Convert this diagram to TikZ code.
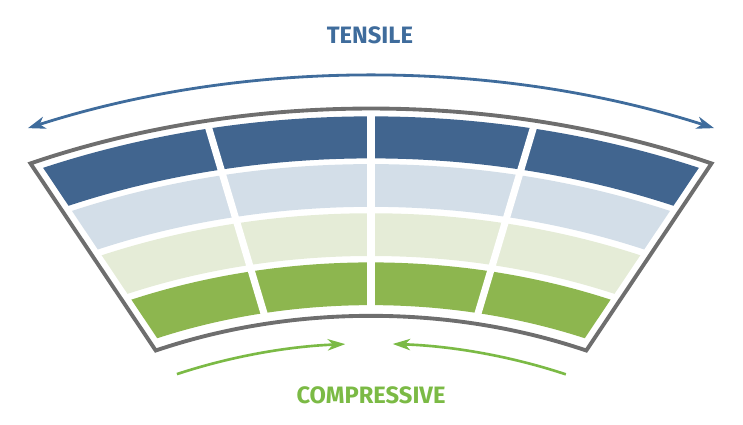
\documentclass[tikz,border=0pt]{standalone}
\usepackage{fontspec}
\setsansfont{Fira Sans}
\usetikzlibrary{arrows.meta}

\definecolor{tensileBlue}{HTML}{3F6C9C}
\definecolor{compGreen}{HTML}{7BBA45}
\definecolor{layerDark}{HTML}{41658F}
\definecolor{layerPale}{HTML}{D3DEE8}
\definecolor{layerMint}{HTML}{E5ECD7}
\definecolor{layerGreen}{HTML}{8DB64F}
\definecolor{frameGray}{HTML}{6E6E6E}

\begin{document}
\begin{tikzpicture}[
    x=0.02cm, y=0.014248cm,
    gap/.style={white, line width=4pt},
    sidegap/.style={white, line width=9pt},
    frame/.style={draw=frameGray, line width=2.2pt, line join=miter},
    pullarrow/.style={{Stealth[length=10pt, width=7pt, inset=3pt]}-{Stealth[length=10pt, width=7pt, inset=3pt]}, line width=1.6pt, draw=tensileBlue},
    pusharrow/.style={-{Stealth[length=10pt, width=6.5pt, inset=3pt]}, line width=1.5pt, draw=compGreen},
    heading/.style={font=\sffamily\bfseries\fontsize{13.5}{15}\selectfont}
]
    \useasboundingbox (-371,348.1) rectangle (372,943.3);

    % Layers (outer to inner)
    \fill[layerDark]  (64.5:780) arc (64.5:115.5:780) -- (115.5:721) arc (115.5:64.5:721) -- cycle;
    \fill[layerPale]  (64.5:713) arc (64.5:115.5:713) -- (115.5:653) arc (115.5:64.5:653) -- cycle;
    \fill[layerMint]  (64.5:644) arc (64.5:115.5:644) -- (115.5:584) arc (115.5:64.5:584) -- cycle;
    \fill[layerGreen] (64.5:575) arc (64.5:115.5:575) -- (115.5:515) arc (115.5:64.5:515) -- cycle;

    % Joints between blocks
    \foreach \a in {78, 90, 102}
        \draw[gap] (\a:505) -- (\a:785);
    \draw[sidegap] (115.5:500) -- (115.5:791);
    \draw[sidegap] (64.5:500) -- (64.5:791);

    % Frame
    \draw[frame] (64.5:791) arc (64.5:115.5:791) -- (115.5:500) arc (115.5:64.5:500) -- cycle;

    % Tension on top
    \draw[pullarrow] (114.2:837) arc (114.2:65.8:837);
    \node[heading, text=tensileBlue] (tensile) at (-1,894) {TENSILE};

    % Compression below
    \draw[pusharrow] (114.9:461) arc (114.9:93.2:461);
    \draw[pusharrow] (65:461) arc (65:87.3:461);
    \node[heading, text=compGreen] (compressive) at (0,388.8) {COMPRESSIVE};

\end{tikzpicture}
\end{document}
